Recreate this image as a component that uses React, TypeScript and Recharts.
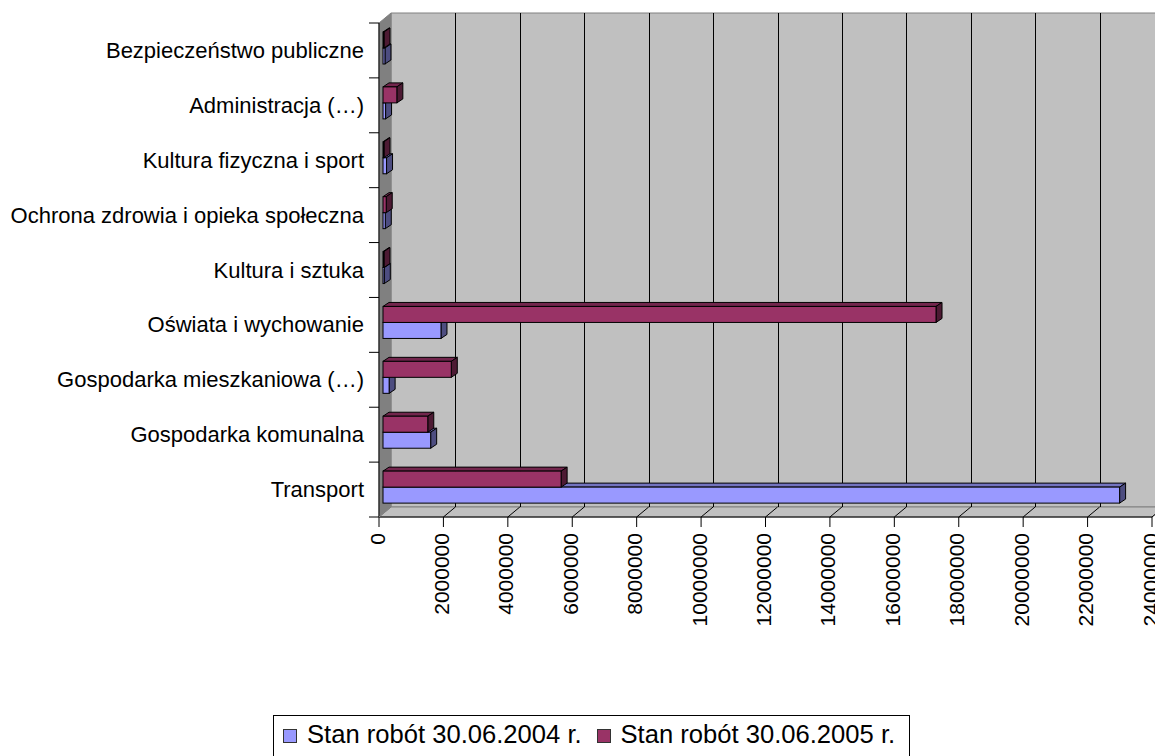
import { BarChart, Bar, XAxis, YAxis, CartesianGrid, Legend } from 'recharts';

const categories = [
  'Bezpieczeństwo publiczne',
  'Administracja (…)',
  'Kultura fizyczna i sport',
  'Ochrona zdrowia i opieka społeczna',
  'Kultura i sztuka',
  'Oświata i wychowanie',
  'Gospodarka mieszkaniowa (…)',
  'Gospodarka komunalna',
  'Transport',
];
const stan2004 = [60000, 80000, 110000, 70000, 40000, 1800000, 190000, 1480000, 22870000];
const stan2005 = [30000, 430000, 30000, 100000, 30000, 17170000, 2120000, 1390000, 5530000];
const xTicks = [0, 2000000, 4000000, 6000000, 8000000, 10000000, 12000000, 14000000, 16000000, 18000000, 20000000, 22000000, 24000000];

const data = categories.map((name, i) => ({ name, s2004: stan2004[i], s2005: stan2005[i] }));

const FONT = '"Liberation Sans", Arial, sans-serif';
const LEFT = 379;
const RIGHT = 1152;
const TOP = 23;
const BOTTOM = 517;
const depthX = 12;
const depthY = 10;
const bandStep = (BOTTOM - TOP) / categories.length;

// 3D box: front face plus top and right faces, shift moves it inside the category band
function box3d(front: string, top: string, side: string, shift: number) {
  return (props: any) => {
    const { x, y, width, height } = props;
    const fx = x + 4;
    const fy = y - 2 + shift;
    const dx = 6;
    const dy = 4;
    return (
      <g stroke="#000" strokeWidth={1}>
        <polygon points={`${fx},${fy} ${fx + dx},${fy - dy} ${fx + width + dx},${fy - dy} ${fx + width},${fy}`} fill={top} />
        <polygon points={`${fx + width},${fy} ${fx + width + dx},${fy - dy} ${fx + width + dx},${fy + height - dy} ${fx + width},${fy + height}`} fill={side} />
        <rect x={fx} y={fy} width={width} height={height} fill={front} />
      </g>
    );
  };
}

function Walls() {
  return (
    <svg width={1155} height={756} style={{ position: 'absolute', left: 0, top: 0 }}>
      <polygon points={`${LEFT + depthX},${TOP - depthY} ${RIGHT + depthX},${TOP - depthY} ${RIGHT + depthX},${BOTTOM - depthY} ${LEFT + depthX},${BOTTOM - depthY}`} fill="#c0c0c0" stroke="#808080" />
      <polygon points={`${LEFT},${TOP} ${LEFT + depthX},${TOP - depthY} ${LEFT + depthX},${BOTTOM - depthY} ${LEFT},${BOTTOM}`} fill="#808080" stroke="#808080" />
      <polygon points={`${LEFT},${BOTTOM} ${LEFT + depthX},${BOTTOM - depthY} ${RIGHT + depthX},${BOTTOM - depthY} ${RIGHT},${BOTTOM}`} fill="#c0c0c0" stroke="#808080" />
    </svg>
  );
}

function XTick({ x, payload }: any) {
  const ty = 533;
  return (
    <g>
      <line x1={x} y1={BOTTOM} x2={x} y2={BOTTOM + 10} stroke="#000" />
      <line x1={x} y1={BOTTOM} x2={x + depthX} y2={BOTTOM - depthY} stroke={payload.value === 0 ? '#808080' : '#000'} />
      <text x={x - 2} y={ty} transform={`rotate(-90 ${x - 2} ${ty})`} textAnchor="end" dominantBaseline="central" fontSize={21} fontFamily={FONT} fill="#000">
        {payload.value}
      </text>
    </g>
  );
}

// ticks sit on the category boundaries, the label in the middle of the band
function YTick({ y, payload, index }: any) {
  return (
    <g>
      <line x1={LEFT - 10} x2={LEFT} y1={y + bandStep / 2} y2={y + bandStep / 2} stroke="#000" />
      {index === 0 && <line x1={LEFT - 10} x2={LEFT} y1={y - bandStep / 2} y2={y - bandStep / 2} stroke="#000" />}
      <text x={364} y={y} textAnchor="end" dominantBaseline="central" fontSize={22} fontFamily={FONT} fill="#000">
        {payload.value}
      </text>
    </g>
  );
}

function LegendBox() {
  const items = [
    { label: 'Stan robót 30.06.2004 r.', color: '#9999ff' },
    { label: 'Stan robót 30.06.2005 r.', color: '#993366' },
  ];
  return (
    <div style={{ position: 'absolute', left: 273, top: 715, width: 637, height: 50, boxSizing: 'border-box', border: '1px solid #000', fontFamily: FONT, fontSize: 25.6, background: '#fff', color: '#000' }}>
      {items.map((it, i) => (
        <span key={it.label} style={{ position: 'absolute', left: 9 + i * 313.5, top: 1, height: 34, display: 'flex', alignItems: 'center', gap: 10, whiteSpace: 'nowrap' }}>
          <span style={{ display: 'inline-block', width: 14, height: 14, marginTop: 4, boxSizing: 'border-box', border: '1px solid #333', background: it.color }} />
          {it.label}
        </span>
      ))}
    </div>
  );
}

export default function App() {
  return (
    <div style={{ position: 'absolute', left: 0, top: 0, width: 1155, height: 756, overflow: 'hidden', background: '#fff' }}>
      <Walls />
      <BarChart
        width={1155}
        height={756}
        data={data}
        layout="vertical"
        margin={{ top: TOP, right: 1155 - RIGHT, bottom: 139, left: 0 }}
        barGap={0}
        barSize={16}
        style={{ position: 'absolute', left: 0, top: 0 }}
      >
        <CartesianGrid
          horizontal={false}
          vertical={(p: any) => {
            if (p.x1 < LEFT + 1) return <g key={p.key ?? p.index} />;
            const gx = Math.round(p.x1 + depthX) + 0.5;
            return <line key={p.key ?? p.index} x1={gx} x2={gx} y1={p.y1 - depthY} y2={p.y2 - depthY} stroke="#000" />;
          }}
        />
        <XAxis
          type="number"
          domain={[0, 24000000]}
          ticks={xTicks}
          interval={0}
          stroke="#000"
          tickLine={false}
          tick={<XTick />}
          height={100}
          allowDataOverflow
        />
        <YAxis
          type="category"
          dataKey="name"
          interval={0}
          stroke="#000"
          tickLine={false}
          width={LEFT}
          tick={<YTick />}
        />
        <Bar dataKey="s2004" name="Stan robót 30.06.2004 r." fill="#9999ff" isAnimationActive={false} shape={box3d('#9999ff', '#7373c0', '#4d4d80', 16)} />
        <Bar dataKey="s2005" name="Stan robót 30.06.2005 r." fill="#993366" isAnimationActive={false} shape={box3d('#993366', '#73264d', '#4d1a33', -16)} />
        <Legend content={() => <LegendBox />} wrapperStyle={{ position: 'absolute', left: 0, top: 0, width: 0, height: 0 }} />
      </BarChart>
    </div>
  );
}
